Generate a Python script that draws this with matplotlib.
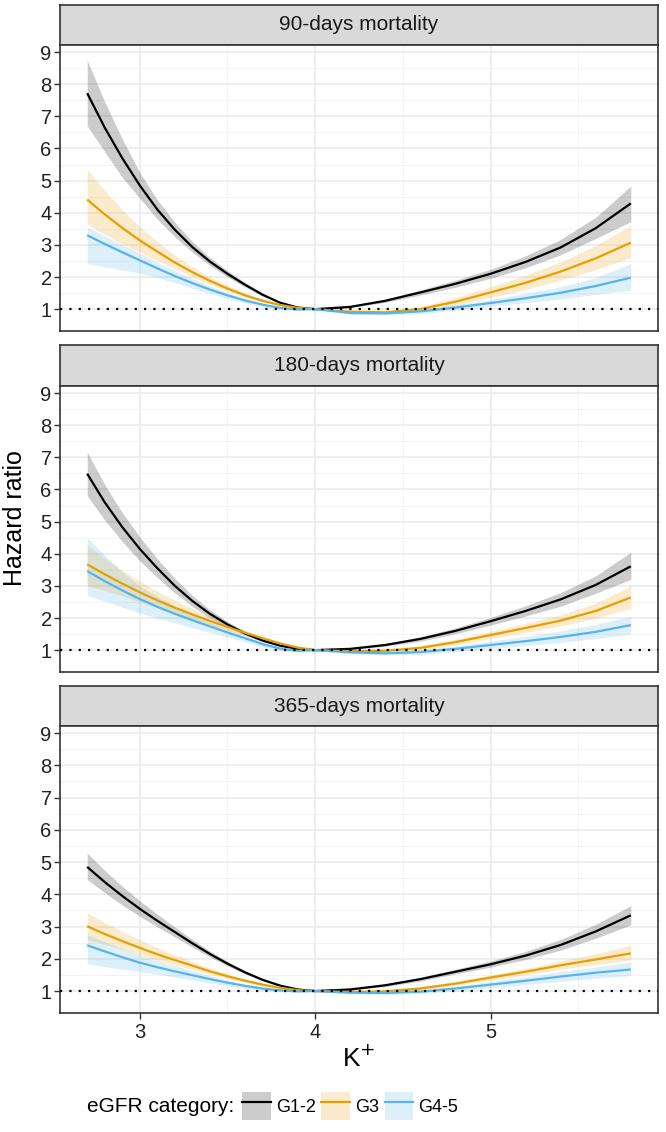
import matplotlib.pyplot as plt
from matplotlib.lines import Line2D
from matplotlib.patches import Patch

plt.rcParams['font.family'] = ['Liberation Sans', 'DejaVu Sans']

# potassium values (x) at which the curves were read
k_plus = [2.7, 2.8, 2.9, 3.0, 3.1, 3.2, 3.3, 3.4, 3.5, 3.6, 3.7, 3.8, 3.9, 4.0,
          4.2, 4.4, 4.6, 4.8, 5.0, 5.2, 5.4, 5.6, 5.8]

panel_titles = ["90-days mortality", "180-days mortality", "365-days mortality"]
groups = ["G1-2", "G3", "G4-5"]
colors = ["#000000", "#E69F00", "#56B4E9"]

# 90 days
hr90_g12 = [7.72, 6.65, 5.7, 4.85, 4.1, 3.47, 2.93, 2.48, 2.1, 1.76, 1.45, 1.2, 1.05, 1.0,
            1.07, 1.26, 1.52, 1.79, 2.1, 2.47, 2.92, 3.52, 4.29]
hi90_g12 = [8.75, 7.45, 6.3, 5.25, 4.4, 3.7, 3.1, 2.6, 2.2, 1.83, 1.5, 1.23, 1.06, 1.0,
            1.09, 1.31, 1.6, 1.9, 2.24, 2.66, 3.17, 3.86, 4.83]
lo90_g12 = [6.7, 5.9, 5.1, 4.45, 3.8, 3.25, 2.77, 2.36, 2.0, 1.69, 1.4, 1.17, 1.04, 1.0,
            1.05, 1.21, 1.44, 1.68, 1.96, 2.29, 2.69, 3.2, 3.72]
hr90_g3 = [4.41, 3.95, 3.53, 3.14, 2.79, 2.45, 2.15, 1.88, 1.64, 1.43, 1.26, 1.13, 1.04, 1.0,
           0.92, 0.9, 1.0, 1.23, 1.52, 1.82, 2.17, 2.58, 3.07]
hi90_g3 = [5.34, 4.7, 4.1, 3.56, 3.1, 2.68, 2.32, 2.0, 1.74, 1.5, 1.3, 1.15, 1.05, 1.0,
           0.95, 0.95, 1.08, 1.36, 1.7, 2.05, 2.47, 2.98, 3.6]
lo90_g3 = [3.65, 3.32, 3.03, 2.77, 2.52, 2.25, 2.0, 1.77, 1.55, 1.36, 1.22, 1.11, 1.03, 1.0,
           0.89, 0.85, 0.93, 1.12, 1.36, 1.61, 1.91, 2.23, 2.6]
hr90_g45 = [3.3, 3.03, 2.77, 2.52, 2.27, 2.03, 1.81, 1.61, 1.43, 1.27, 1.14, 1.04, 0.99, 1.0,
            0.88, 0.87, 0.93, 1.05, 1.19, 1.34, 1.51, 1.72, 1.98]
hi90_g45 = [3.56, 3.28, 3.0, 2.74, 2.46, 2.2, 1.95, 1.72, 1.52, 1.34, 1.19, 1.07, 1.0, 1.0,
            0.92, 0.93, 1.0, 1.14, 1.3, 1.49, 1.7, 1.98, 2.42]
lo90_g45 = [2.42, 2.32, 2.22, 2.12, 1.98, 1.82, 1.65, 1.49, 1.33, 1.19, 1.07, 0.99, 0.96, 1.0,
            0.84, 0.81, 0.86, 0.97, 1.08, 1.2, 1.32, 1.46, 1.6]

# 180 days
hr180_g12 = [6.49, 5.6, 4.83, 4.15, 3.55, 3.0, 2.53, 2.13, 1.8, 1.52, 1.3, 1.14, 1.04, 1.0,
             1.04, 1.16, 1.35, 1.6, 1.9, 2.22, 2.58, 3.03, 3.61]
hi180_g12 = [7.16, 6.15, 5.28, 4.52, 3.84, 3.23, 2.7, 2.26, 1.89, 1.58, 1.34, 1.16, 1.05, 1.0,
             1.06, 1.2, 1.42, 1.69, 2.02, 2.38, 2.79, 3.31, 4.05]
lo180_g12 = [5.81, 5.05, 4.38, 3.78, 3.26, 2.78, 2.36, 2.0, 1.71, 1.46, 1.26, 1.12, 1.03, 1.0,
             1.02, 1.12, 1.28, 1.51, 1.78, 2.06, 2.37, 2.77, 3.2]
hr180_g3 = [3.67, 3.36, 3.07, 2.8, 2.55, 2.32, 2.11, 1.91, 1.72, 1.54, 1.37, 1.21, 1.08, 1.0,
            0.97, 0.98, 1.07, 1.25, 1.47, 1.69, 1.92, 2.22, 2.64]
hi180_g3 = [4.26, 3.86, 3.48, 3.14, 2.83, 2.55, 2.29, 2.05, 1.83, 1.62, 1.42, 1.24, 1.09, 1.0,
            1.0, 1.03, 1.14, 1.34, 1.59, 1.84, 2.1, 2.46, 3.0]
lo180_g3 = [3.0, 2.86, 2.69, 2.5, 2.31, 2.12, 1.94, 1.77, 1.61, 1.46, 1.31, 1.18, 1.06, 1.0,
            0.94, 0.93, 1.0, 1.16, 1.36, 1.55, 1.75, 2.0, 2.3]
hr180_g45 = [3.46, 3.15, 2.86, 2.59, 2.35, 2.13, 1.93, 1.74, 1.55, 1.37, 1.19, 1.05, 0.98, 1.0,
             0.93, 0.9, 0.94, 1.04, 1.16, 1.28, 1.41, 1.57, 1.78]
hi180_g45 = [4.49, 3.95, 3.44, 3.0, 2.67, 2.37, 2.1, 1.87, 1.66, 1.45, 1.25, 1.08, 1.0, 1.0,
             0.97, 0.96, 1.01, 1.13, 1.28, 1.43, 1.6, 1.8, 2.05]
lo180_g45 = [2.71, 2.52, 2.33, 2.16, 2.0, 1.85, 1.7, 1.55, 1.4, 1.26, 1.11, 0.99, 0.95, 1.0,
             0.89, 0.85, 0.87, 0.95, 1.05, 1.14, 1.24, 1.36, 1.5]

# 365 days
hr365_g12 = [4.85, 4.38, 3.95, 3.55, 3.18, 2.83, 2.48, 2.15, 1.85, 1.58, 1.35, 1.17, 1.05, 1.0,
             1.05, 1.18, 1.37, 1.6, 1.83, 2.1, 2.43, 2.85, 3.35]
hi365_g12 = [5.28, 4.74, 4.25, 3.8, 3.38, 2.99, 2.6, 2.24, 1.92, 1.63, 1.38, 1.19, 1.06, 1.0,
             1.07, 1.22, 1.43, 1.68, 1.93, 2.23, 2.6, 3.07, 3.65]
lo365_g12 = [4.46, 4.05, 3.67, 3.32, 2.99, 2.68, 2.36, 2.06, 1.78, 1.53, 1.32, 1.15, 1.04, 1.0,
             1.03, 1.14, 1.31, 1.53, 1.74, 1.98, 2.27, 2.64, 3.05]
hr365_g3 = [3.01, 2.77, 2.55, 2.34, 2.14, 1.96, 1.79, 1.61, 1.46, 1.32, 1.2, 1.1, 1.03, 1.0,
            0.97, 0.99, 1.08, 1.23, 1.42, 1.6, 1.8, 1.98, 2.17]
hi365_g3 = [3.43, 3.13, 2.85, 2.59, 2.34, 2.12, 1.92, 1.71, 1.54, 1.38, 1.24, 1.12, 1.04, 1.0,
            1.0, 1.03, 1.13, 1.3, 1.5, 1.7, 1.93, 2.16, 2.42]
lo365_g3 = [2.6, 2.45, 2.3, 2.13, 1.96, 1.81, 1.67, 1.52, 1.39, 1.27, 1.16, 1.08, 1.02, 1.0,
            0.94, 0.96, 1.04, 1.17, 1.34, 1.5, 1.68, 1.82, 1.96]
hr365_g45 = [2.42, 2.23, 2.05, 1.88, 1.74, 1.61, 1.49, 1.37, 1.26, 1.16, 1.08, 1.02, 0.99, 1.0,
             0.95, 0.94, 0.98, 1.08, 1.2, 1.32, 1.45, 1.57, 1.67]
hi365_g45 = [2.75, 2.53, 2.32, 2.12, 1.95, 1.79, 1.64, 1.49, 1.35, 1.23, 1.12, 1.04, 1.0, 1.0,
             0.98, 0.99, 1.04, 1.16, 1.3, 1.44, 1.6, 1.75, 1.9]
lo365_g45 = [1.85, 1.76, 1.68, 1.6, 1.52, 1.43, 1.34, 1.25, 1.16, 1.08, 1.02, 0.98, 0.97, 1.0,
             0.92, 0.89, 0.92, 1.0, 1.1, 1.2, 1.3, 1.4, 1.48]

panel_data = [
    [(hr90_g12, lo90_g12, hi90_g12), (hr90_g3, lo90_g3, hi90_g3), (hr90_g45, lo90_g45, hi90_g45)],
    [(hr180_g12, lo180_g12, hi180_g12), (hr180_g3, lo180_g3, hi180_g3), (hr180_g45, lo180_g45, hi180_g45)],
    [(hr365_g12, lo365_g12, hi365_g12), (hr365_g3, lo365_g3, hi365_g3), (hr365_g45, lo365_g45, hi365_g45)],
]

W, H = 666, 1132
fig = plt.figure(figsize=(W / 100, H / 100), dpi=100)

def px_axes(x0, y0, x1, y1):
    # pixel box (top-left origin) -> figure axes
    return fig.add_axes([x0 / W, 1 - y1 / H, (x1 - x0) / W, (y1 - y0) / H])

strip_boxes = [(5, 45), (345, 386), (686, 726)]
panel_boxes = [(45, 331), (386, 672), (726, 1013)]
left, right = 60, 658
border = "#333333"

for i in range(3):
    s0, s1 = strip_boxes[i]
    strip = px_axes(left, s0, right, s1)
    strip.set_facecolor("#d9d9d9")
    strip.set_xticks([])
    strip.set_yticks([])
    for sp in strip.spines.values():
        sp.set_color(border)
        sp.set_linewidth(1.2)
    strip.text(0.5, 0.5, panel_titles[i], ha="center", va="center",
               fontsize=15, color="#1a1a1a", transform=strip.transAxes)

    p0, p1 = panel_boxes[i]
    ax = px_axes(left, p0, right, p1)
    for j in range(3):
        hr, lo, hi = panel_data[i][j]
        ax.fill_between(k_plus, lo, hi, color=colors[j], alpha=0.2, linewidth=0)
    for j in range(3):
        hr, lo, hi = panel_data[i][j]
        ax.plot(k_plus, hr, color=colors[j], lw=1.6, solid_joinstyle="round",
                solid_capstyle="butt")
    ax.axhline(1, color="black", lw=1.6, ls=(0, (1, 3.2)), zorder=5)

    ax.set_xlim(2.545, 5.955)
    ax.set_ylim(0.32, 9.22)
    ax.set_xticks([3, 4, 5])
    ax.set_xticks([3.5, 4.5, 5.5], minor=True)
    ax.set_yticks(range(1, 10))
    ax.set_yticks([1.5 + k for k in range(8)], minor=True)
    ax.grid(which="major", color="#ebebeb", lw=1.2)
    ax.grid(which="minor", color="#f3f3f3", lw=0.7)
    ax.set_axisbelow(True)
    for sp in ax.spines.values():
        sp.set_color(border)
        sp.set_linewidth(1.2)
    ax.tick_params(axis="y", which="major", length=4, width=1, color=border,
                   labelsize=14.5, labelcolor="#222222", pad=2)
    ax.tick_params(which="minor", length=0)
    if i < 2:
        ax.tick_params(axis="x", which="major", length=0, labelbottom=False)
    else:
        ax.tick_params(axis="x", which="major", length=4, width=1, color=border,
                       labelsize=14.5, labelcolor="#222222", pad=3)
        ax.set_xlabel("K$^{+}$", fontsize=19, labelpad=3)

fig.text(15 / W, 1 - 518 / H, "Hazard ratio", rotation=90, ha="center", va="center",
         fontsize=18)

handles = []
for j in range(3):
    handles.append((Patch(facecolor=colors[j], alpha=0.2, edgecolor="none"),
                    Line2D([], [], color=colors[j], lw=1.6)))

fig.text(234 / W, 1 - 1106 / H, "eGFR category:", ha="right", va="center", fontsize=15)
fig.legend(handles, groups, loc="center left", bbox_to_anchor=(242 / W, 1 - 1106 / H),
           ncol=3, frameon=False, fontsize=13,
           handlelength=1.6, handleheight=2.05, handletextpad=0.28,
           columnspacing=0.3, borderaxespad=0, borderpad=0)

fig.savefig("out.png", dpi=100)
